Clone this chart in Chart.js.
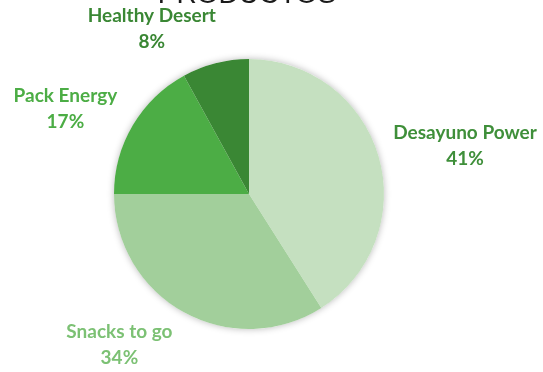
<!DOCTYPE html>
<html>
<head>
<meta charset="utf-8">
<script src="https://cdn.jsdelivr.net/npm/chart.js@4"></script>
<style>
    html, body { margin: 0; padding: 0; background: #ffffff; }
    #wrap { width: 543px; height: 372px; }
</style>
</head>
<body>
<div id="wrap"><canvas id="pieChart" width="543" height="372"></canvas></div>
<script>
const chartTitle = 'PRODUCTOS';
const productLabels = ['Desayuno Power', 'Snacks to go', 'Pack Energy', 'Healthy Desert'];
const productShares = [41, 34, 17, 8];
const sliceColours = ['#c5e0c0', '#a2cf9b', '#4cad45', '#3a8734'];
const labelColours = ['#3f8f3a', '#7cc174', '#4cad45', '#3a8734'];

// where each label sits, relative to pie centre, in radius units
const labelOffsets = [[1.60, -0.36], [-0.96, 1.12], [-1.36, -0.63], [-0.72, -1.22]];

// soft shadow behind the whole pie
const pieShadow = {
    id: 'pieShadow',
    beforeDatasetsDraw(chart) {
        const arc = chart.getDatasetMeta(0).data[0];
        if (!arc) return;
        const ctx = chart.ctx;
        ctx.save();
        ctx.shadowColor = 'rgba(0,0,0,0.28)';
        ctx.shadowBlur = 7;
        ctx.fillStyle = '#ffffff';
        ctx.beginPath();
        ctx.arc(arc.x, arc.y, arc.outerRadius, 0, Math.PI * 2);
        ctx.fill();
        ctx.restore();
    }
};

// category name + percent outside each slice
const outsideLabels = {
    id: 'outsideLabels',
    afterDatasetsDraw(chart) {
        const ctx = chart.ctx;
        const arcs = chart.getDatasetMeta(0).data;
        ctx.save();
        ctx.font = 'bold 19px Lato, "Open Sans", sans-serif';
        ctx.textAlign = 'center';
        ctx.textBaseline = 'middle';
        arcs.forEach((arc, i) => {
            const [ox, oy] = labelOffsets[i];
            const x = arc.x + ox * arc.outerRadius;
            const y = arc.y + oy * arc.outerRadius;
            ctx.fillStyle = labelColours[i];
            ctx.fillText(productLabels[i], x, y - 13);
            ctx.fillText(productShares[i] + '%', x, y + 13);
        });
        ctx.restore();
    }
};

// title is mostly cut off at the top edge
const cutTitle = {
    id: 'cutTitle',
    afterDraw(chart) {
        const ctx = chart.ctx;
        ctx.save();
        ctx.font = '28px "Liberation Sans", sans-serif';
        ctx.fillStyle = '#1a1a1a';
        ctx.textAlign = 'center';
        ctx.textBaseline = 'alphabetic';
        ctx.fillText(chartTitle, 247, 3);
        ctx.restore();
    }
};

new Chart(document.getElementById('pieChart'), {
    type: 'pie',
    data: {
        labels: productLabels,
        datasets: [{
            data: productShares,
            backgroundColor: sliceColours,
            borderWidth: 0
        }]
    },
    options: {
        responsive: false,
        animation: false,
        layout: {
            padding: { top: 59, bottom: 43, left: 114, right: 159 }
        },
        plugins: {
            legend: { display: false },
            tooltip: { enabled: false },
            title: { display: false }
        }
    },
    plugins: [pieShadow, outsideLabels, cutTitle]
});
</script>
</body>
</html>
